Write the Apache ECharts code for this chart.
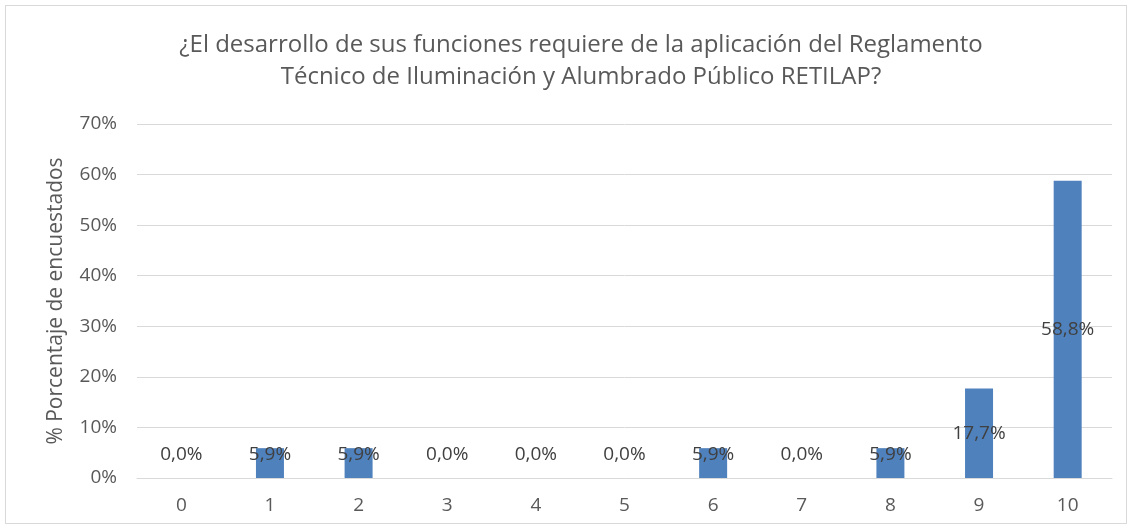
<!DOCTYPE html>
<html>
<head>
<meta charset="utf-8">
<script src="https://cdn.jsdelivr.net/npm/echarts@6/dist/echarts.min.js"></script>
<style>
  html, body { margin: 0; padding: 0; background: #fff; }
  #frame { position: absolute; left: 5px; top: 5px; width: 1122px; height: 519px; border: 1px solid #d9d9d9; box-sizing: border-box; }
  #chart { position: absolute; left: 0; top: 0; width: 1134px; height: 531px; }
</style>
</head>
<body>
<div id="frame"></div>
<div id="chart"></div>
<script>
// Puntuaciones de 0 a 10 y porcentaje de encuestados en cada una
const categories = ['0', '1', '2', '3', '4', '5', '6', '7', '8', '9', '10'];
const percentages = [0.0, 5.9, 5.9, 0.0, 0.0, 0.0, 5.9, 0.0, 5.9, 17.7, 58.8];
const yTicks = [0, 10, 20, 30, 40, 50, 60, 70];

const titleText = '¿El desarrollo de sus funciones requiere de la aplicación del Reglamento\nTécnico de Iluminación y Alumbrado Público RETILAP?';
const yAxisName = '% Porcentaje de encuestados';

const textColor = '#595959';
const font = '"Open Sans", "Noto Sans", sans-serif';

function fmt(v) {
  return v.toFixed(1).replace('.', ',') + '%';
}

// Las barras bajas llevan la etiqueta apoyada sobre el eje; las altas, centrada
const barData = percentages.map(v => ({
  value: v,
  label: v < 10
    ? { position: 'insideBottom', distance: 14 }
    : { position: 'inside' }
}));

const chart = echarts.init(document.getElementById('chart'), null, { renderer: 'canvas' });
chart.setOption({
  animation: false,
  backgroundColor: 'transparent',
  title: {
    text: titleText,
    left: 576,
    textAlign: 'center',
    top: 24,
    textStyle: {
      color: textColor,
      fontFamily: font,
      fontWeight: 'normal',
      fontSize: 24,
      lineHeight: 32
    }
  },
  grid: { left: 137, right: 22, top: 124, bottom: 53 },
  xAxis: {
    type: 'category',
    data: categories,
    axisLine: { show: true, lineStyle: { color: '#d9d9d9', width: 1 } },
    axisTick: { show: false },
    axisLabel: { color: textColor, fontFamily: font, fontSize: 19, margin: 18 }
  },
  yAxis: {
    type: 'value',
    min: yTicks[0],
    max: yTicks[yTicks.length - 1],
    interval: 10,
    name: yAxisName,
    nameLocation: 'middle',
    nameGap: 70,
    nameRotate: 90,
    nameTextStyle: { color: textColor, fontFamily: font, fontSize: 21 },
    axisLine: { show: false },
    axisTick: { show: false },
    splitLine: { lineStyle: { color: '#d9d9d9', width: 1 } },
    axisLabel: {
      color: textColor, fontFamily: font, fontSize: 19, margin: 20,
      formatter: v => v + '%'
    }
  },
  series: [{
    type: 'bar',
    data: barData,
    barWidth: 28,
    itemStyle: { color: '#4F81BD' },
    label: {
      show: true,
      color: '#404040',
      fontFamily: font,
      fontSize: 19,
      formatter: p => fmt(p.value)
    }
  }]
});
</script>
</body>
</html>
